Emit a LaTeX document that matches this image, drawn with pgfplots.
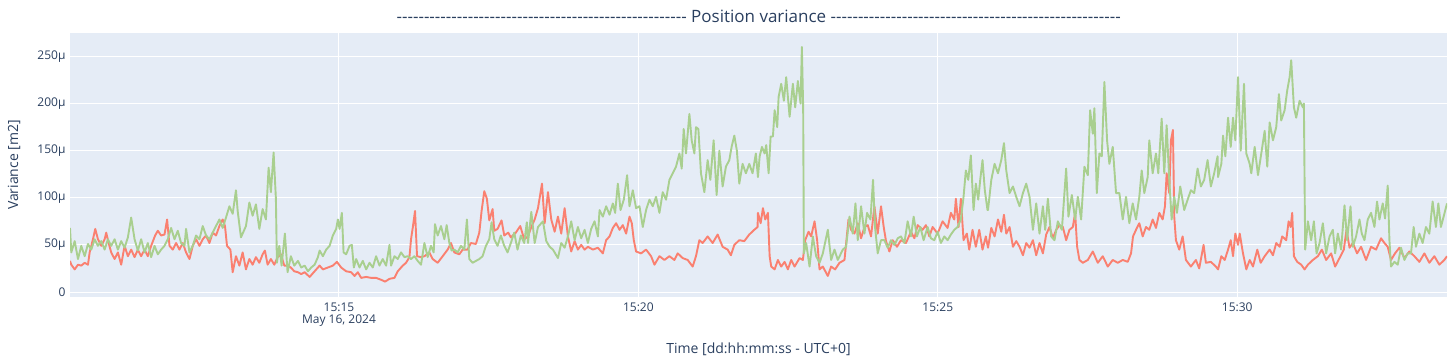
\documentclass[border=0pt]{standalone}
\usepackage{fontspec}
\setmainfont{Open Sans}
\usepackage{pgfplots}
\pgfplotsset{compat=1.18}
\definecolor{bgc}{HTML}{E5ECF6}
\definecolor{txt}{HTML}{2A3F5F}
\definecolor{gline}{HTML}{A9CF8F}
\definecolor{rline}{HTML}{FA8070}
\newcommand\dsh{-\kern0pt}
\newcommand\dshten{\dsh\dsh\dsh\dsh\dsh\dsh\dsh\dsh\dsh\dsh}
\newcommand\dashrow{\dshten\dshten\dshten\dshten\dshten\dsh\dsh\dsh}
\begin{document}
\begin{tikzpicture}
\useasboundingbox (-70bp,-66bp) rectangle (1383bp,297bp);
\begin{axis}[
  name=ax,
  scale only axis, width=1377bp, height=264bp,
  xmin=630.5, xmax=2010.2, ymin=-5.3, ymax=274.9,
  axis background/.style={fill=bgc},
  axis line style={draw=none},
  major tick length=0pt,
  grid=major, major grid style={white, line width=1bp},
  xtick={900,1200,1500,1800},
  xticklabels={{15:15\\May 16, 2024},15:20,15:25,15:30},
  xticklabel style={align=center, font=\fontsize{12bp}{12.5bp}\selectfont, text=txt, yshift=-2bp},
  ytick={50,100,150,200,250},
  yticklabels={50µ,100µ,150µ,200µ,250µ},
  extra y ticks={0}, extra y tick labels={0},
  extra y tick style={grid style={white, line width=2.2bp}},
  yticklabel style={font=\fontsize{12bp}{14bp}\selectfont, text=txt, xshift=-1bp},
  clip=true,
]
\addplot[rline, line width=1.9bp, line join=round] table {
630.5 33
631.8 29
635.2 24
638.5 29
641.8 28
645.2 31
648.5 29
650.2 42
653.5 56
655.8 67
658.5 56
661.8 49
665.2 56
666.8 63
669.2 52
671.8 42
675.2 35
678.5 42
681.8 29
685.2 49
688.5 38
691.8 45
695.2 37
698.5 45
701.8 38
705.2 45
708.5 38
711.8 49
715.8 60
718.5 65
721.8 60
725.2 61
727.8 77
730.2 49
733.5 45
736.8 52
740.2 45
743.5 52
746.8 42
750.2 35
753.5 49
756.8 56
760.2 49
763.5 56
766.8 60
770.2 52
773.5 63
776.8 60
780.2 70
783.5 77
785.8 70
787.8 49
791.2 45
793.5 21
796.8 38
800.2 28
803.5 42
806.8 24
810.2 35
813.5 29
816.8 37
820.2 31
823.5 40
825.8 44
828.5 29
831.8 35
835.2 29
838.5 37
841.8 40
845.2 28
848.5 28
851.8 26
855.2 22
858.9 21
862.2 19
865.6 21
870.6 16
875.6 22
880.6 28
883.9 24
888.9 26
893.9 28
897.9 32
902.2 26
907.2 22
912.2 21
915.6 17
918.9 21
922.2 15
927.2 16
932.2 15
937.2 15
942.2 13
946.2 11
950.6 14
955.6 15
958.9 22
963.9 28
967.2 31
970.6 37
972.2 56
973.9 68
976.2 86
978.2 38
982.2 37
985.6 38
990.6 42
993.9 35
998.9 31
1003.9 38
1008.9 45
1012.2 52
1015.6 42
1020.6 40
1023.9 45
1028.9 45
1032.2 52
1037.2 51
1040.6 63
1042.9 86
1045.6 107
1048.2 99
1050.6 76
1053.9 88
1055.6 65
1058.9 67
1062.9 76
1065.6 60
1069.6 63
1072.2 58
1077.2 63
1081.6 70
1085.6 56
1089.4 59
1092.7 69
1096.1 77
1099.4 89
1103.4 115
1106.1 73
1109.4 106
1112.7 77
1116.1 64
1119.4 80
1122.7 62
1126.1 89
1129.4 59
1132.7 43
1136.1 54
1139.4 45
1142.7 50
1146.1 45
1149.4 48
1154.4 45
1159.4 47
1164.4 41
1167.7 55
1171.1 59
1174.4 68
1177.7 73
1181.1 66
1184.4 71
1187.7 62
1191.1 80
1193.4 73
1195.4 55
1197.7 43
1202.7 41
1207.7 45
1212.7 38
1216.1 29
1221.1 38
1226.1 34
1231.1 38
1236.1 34
1239.4 41
1244.4 36
1249.4 34
1254.4 27
1257.7 38
1261.1 55
1264.4 52
1269.4 59
1274.4 52
1279.4 61
1284.4 48
1289.4 45
1292.7 39
1296.1 50
1301.1 55
1306.1 54
1311.1 61
1316.1 66
1319.4 69
1319.8 84
1322.5 73
1324.8 89
1327.1 77
1329.8 84
1331.5 38
1333.1 27
1336.5 24
1339.8 34
1343.1 27
1346.5 32
1349.8 24
1353.1 34
1356.5 27
1361.5 36
1364.8 34
1367.1 55
1370.5 64
1373.1 59
1376.5 75
1379.1 55
1381.5 24
1384.8 27
1389.8 17
1393.1 27
1397.1 24
1401.5 31
1406.5 34
1410.5 77
1413.1 66
1416.5 62
1419.8 73
1423.1 57
1426.5 69
1429.8 71
1433.1 59
1436.5 91
1439.8 62
1443.1 91
1445.8 69
1448.1 54
1451.5 43
1454.8 55
1459.1 48
1463.1 55
1468.1 52
1473.1 64
1476.5 57
1479.8 71
1484.8 66
1488.1 71
1491.5 59
1494.8 69
1499.8 62
1504.8 75
1509.8 68
1513.1 84
1516.5 77
1518.1 99
1520.8 69
1523.1 99
1525.8 55
1529.1 62
1531.5 45
1534.8 66
1538.1 48
1541.5 66
1544.8 45
1548.1 59
1550.3 47
1553.6 68
1556.9 59
1560.3 77
1563.6 64
1566.3 82
1568.6 62
1571.9 69
1575.3 48
1578.6 54
1581.9 48
1585.3 39
1588.6 52
1591.9 47
1595.3 55
1598.6 39
1601.9 52
1605.3 41
1608.6 61
1611.9 69
1615.3 57
1618.6 66
1621.9 71
1625.3 69
1628.6 55
1631.9 66
1635.3 69
1637.6 84
1639.6 48
1641.9 34
1645.3 31
1650.3 34
1655.3 43
1660.3 31
1665.3 38
1670.3 27
1675.3 34
1680.3 31
1685.3 34
1690.3 32
1693.6 41
1695.6 59
1698.6 66
1701.9 73
1705.3 59
1708.6 69
1711.9 66
1715.3 77
1718.6 68
1721.9 84
1725.3 77
1727.6 91
1729.3 126
1731.9 105
1733.6 161
1735.6 172
1736.9 80
1738.6 55
1741.9 45
1745.3 59
1748.6 34
1753.6 27
1758.6 34
1761.9 25
1766.3 50
1768.6 31
1773.6 32
1778.6 27
1780.8 24
1784.1 38
1787.5 34
1790.8 45
1793.5 55
1795.8 38
1798.1 62
1800.8 50
1802.5 62
1805.8 41
1809.1 24
1812.5 34
1815.8 27
1820.1 45
1823.5 31
1827.5 38
1832.5 45
1835.8 39
1839.1 52
1842.5 48
1845.1 59
1849.1 55
1851.5 75
1853.5 69
1855.1 84
1856.8 38
1860.1 32
1864.1 29
1867.5 24
1870.8 29
1875.8 34
1880.8 38
1884.8 45
1889.1 34
1894.1 41
1898.1 27
1902.5 36
1906.8 45
1909.5 66
1912.5 47
1915.8 52
1920.1 41
1924.1 48
1929.1 34
1934.1 48
1939.1 45
1944.1 57
1947.5 52
1950.8 48
1954.1 34
1958.1 41
1962.5 47
1967.5 36
1972.5 43
1977.5 38
1982.5 32
1987.5 41
1992.5 31
1997.5 38
2002.5 29
2007.5 34
2010.2 38
};
\addplot[gline, line width=1.9bp, line join=round] table {
630.5 68
631.8 42
635.2 54
638.5 35
641.8 49
645.2 38
648.5 51
651.8 45
655.2 56
658.5 49
661.8 54
665.2 45
668.5 56
671.8 49
675.2 56
678.5 45
681.8 54
685.2 47
688.5 58
691.8 79
695.2 56
698.5 44
701.8 56
705.2 42
708.5 52
711.8 37
715.2 49
718.5 40
721.8 45
725.2 49
728.5 56
731.8 68
735.2 56
738.5 65
741.8 52
745.2 49
746.8 67
750.2 42
753.5 49
756.8 60
760.2 56
763.5 70
766.8 60
770.2 56
773.5 63
776.8 70
780.2 77
783.5 68
786.8 79
790.2 91
793.5 83
796.8 108
798.5 86
801.8 58
806.8 70
810.2 95
813.5 81
816.8 93
820.2 67
823.5 88
826.8 77
829.5 132
831.8 106
834.5 148
836.8 99
837.8 31
840.2 49
842.5 28
845.8 62
848.5 21
851.8 38
855.2 28
858.9 33
862.2 26
865.6 28
868.9 22
872.2 26
875.6 29
878.9 37
880.6 44
883.9 38
887.2 45
890.6 49
893.9 60
897.2 67
898.9 77
900.6 67
902.9 84
904.6 42
907.2 40
910.6 49
912.9 50
914.9 26
917.2 35
920.6 26
923.9 33
927.2 24
930.6 31
933.9 26
937.2 38
940.6 28
943.9 35
947.2 28
950.6 50
952.2 28
955.6 38
958.9 35
962.2 42
965.6 37
968.9 38
972.2 35
975.6 38
978.9 33
982.2 29
985.6 52
988.9 37
992.2 49
994.9 42
996.2 72
998.9 60
1002.2 70
1005.6 56
1007.9 71
1010.6 52
1012.9 44
1015.6 45
1018.9 42
1022.2 49
1025.6 45
1028.2 77
1030.6 35
1033.9 31
1037.2 33
1040.6 35
1043.9 38
1047.2 49
1050.6 56
1052.9 74
1055.6 56
1058.9 49
1062.2 60
1065.6 49
1068.9 42
1072.2 52
1075.6 63
1078.9 45
1082.2 60
1085.6 52
1088.2 74
1089.4 52
1092.7 85
1096.1 52
1099.4 69
1104.4 75
1107.7 54
1111.1 48
1114.4 45
1119.4 36
1122.7 52
1126.1 47
1129.4 59
1132.7 75
1136.1 55
1139.4 69
1142.7 57
1146.1 66
1149.4 52
1152.7 67
1156.1 75
1159.4 59
1161.1 87
1164.4 80
1167.7 91
1171.1 82
1174.4 94
1176.7 84
1179.4 115
1182.1 87
1185.4 98
1188.7 124
1191.1 91
1194.4 108
1197.7 89
1201.1 91
1204.4 69
1207.7 87
1211.1 98
1214.4 91
1217.7 101
1221.1 84
1224.4 106
1227.7 98
1231.1 119
1234.4 126
1237.7 133
1241.1 147
1243.4 131
1245.4 173
1247.7 147
1251.1 189
1253.4 161
1256.1 147
1257.7 175
1260.1 173
1262.7 126
1266.1 106
1269.4 140
1272.1 119
1275.4 161
1278.4 103
1281.1 150
1284.4 112
1287.7 133
1291.1 140
1293.4 154
1296.1 166
1298.7 150
1301.1 115
1304.4 136
1307.7 126
1311.1 136
1314.4 126
1317.7 147
1319.8 122
1321.5 144
1323.8 154
1326.5 147
1328.1 156
1330.5 126
1332.5 165
1334.8 165
1336.5 193
1339.1 175
1340.5 207
1343.1 221
1345.8 203
1348.1 228
1351.5 186
1354.8 221
1357.1 196
1359.8 224
1362.5 200
1363.8 260
1365.1 196
1365.8 41
1368.1 52
1371.5 27
1374.8 59
1378.1 38
1381.5 31
1384.8 41
1389.8 66
1393.1 34
1396.5 45
1399.8 34
1404.8 45
1408.1 48
1411.5 80
1414.8 62
1417.5 94
1419.8 55
1423.1 91
1426.5 62
1429.1 84
1432.5 77
1435.1 119
1437.1 69
1439.8 41
1443.1 55
1446.5 55
1449.8 47
1453.1 55
1456.5 50
1459.8 57
1463.1 59
1466.5 52
1469.8 75
1473.1 59
1475.8 80
1479.1 59
1482.5 69
1485.8 55
1489.8 69
1493.1 57
1496.5 55
1499.8 64
1503.1 52
1506.5 59
1509.8 55
1513.1 61
1516.5 66
1519.8 69
1523.1 77
1525.8 101
1528.1 129
1530.5 119
1533.1 145
1535.8 87
1538.1 115
1540.5 98
1542.5 119
1544.8 140
1547.1 108
1549.8 87
1550.3 87
1553.6 119
1556.9 136
1560.3 126
1563.6 140
1566.3 158
1568.6 129
1571.9 105
1575.3 112
1578.6 101
1581.9 91
1585.3 105
1588.6 115
1591.9 101
1595.3 66
1598.6 94
1601.9 62
1605.3 91
1607.6 66
1610.3 99
1613.6 59
1616.9 55
1620.3 75
1624.3 66
1628.6 131
1630.9 80
1634.3 103
1637.6 77
1640.3 101
1643.6 77
1646.9 133
1650.3 124
1652.6 193
1655.3 168
1656.9 195
1659.3 105
1661.9 147
1664.3 144
1666.9 223
1669.6 161
1671.9 136
1675.3 154
1678.6 105
1681.9 105
1685.3 77
1688.6 101
1691.9 73
1695.3 94
1698.6 77
1701.9 101
1704.3 129
1706.9 105
1710.3 122
1711.9 161
1715.3 126
1718.6 147
1720.9 126
1724.3 184
1726.9 126
1729.3 177
1731.9 119
1734.3 77
1736.9 101
1739.6 84
1742.9 112
1746.9 87
1750.3 98
1753.6 108
1756.9 105
1760.3 131
1763.6 112
1766.9 119
1770.3 140
1773.6 112
1776.9 126
1780.3 144
1780.8 122
1784.1 136
1785.8 166
1788.1 144
1790.8 185
1793.5 154
1795.8 185
1798.1 161
1800.8 228
1803.5 150
1806.8 221
1809.1 147
1812.5 136
1814.1 126
1817.5 154
1820.8 124
1824.1 147
1827.5 171
1830.1 133
1832.5 180
1835.8 161
1839.1 175
1841.8 210
1844.1 182
1847.5 193
1850.1 214
1852.5 228
1854.1 246
1856.8 196
1859.1 185
1862.5 203
1865.8 196
1866.8 200
1868.1 45
1870.8 75
1874.1 55
1876.8 75
1879.5 41
1882.5 52
1885.8 73
1889.1 41
1892.5 59
1895.8 66
1898.1 41
1900.8 62
1904.1 45
1907.5 92
1910.1 55
1913.5 91
1915.8 48
1919.1 59
1922.5 77
1924.8 62
1927.5 55
1930.8 77
1934.1 84
1937.5 69
1940.1 96
1942.5 77
1945.8 94
1948.1 78
1950.8 113
1952.5 55
1954.1 27
1957.5 32
1960.8 29
1964.1 47
1967.5 34
1970.8 41
1974.1 41
1976.8 69
1979.1 48
1982.5 62
1985.8 52
1989.1 69
1992.5 62
1995.8 96
1999.1 69
2001.5 94
2004.1 69
2006.8 80
2010.2 94
};
\end{axis}
\node[text=txt, font=\fontsize{14bp}{16bp}\selectfont, anchor=center] at (688.5bp,-52bp) {Time [dd:hh:mm:ss - UTC+0]};
\node[text=txt, font=\fontsize{14bp}{16bp}\selectfont, anchor=center, rotate=90] at (-56bp,132bp) {Variance [m2]};
\node[text=txt, font=\fontsize{17bp}{19bp}\selectfont, anchor=center] at (688.5bp,281bp) {\dashrow\ Position variance \dashrow};
\end{tikzpicture}
\end{document}
